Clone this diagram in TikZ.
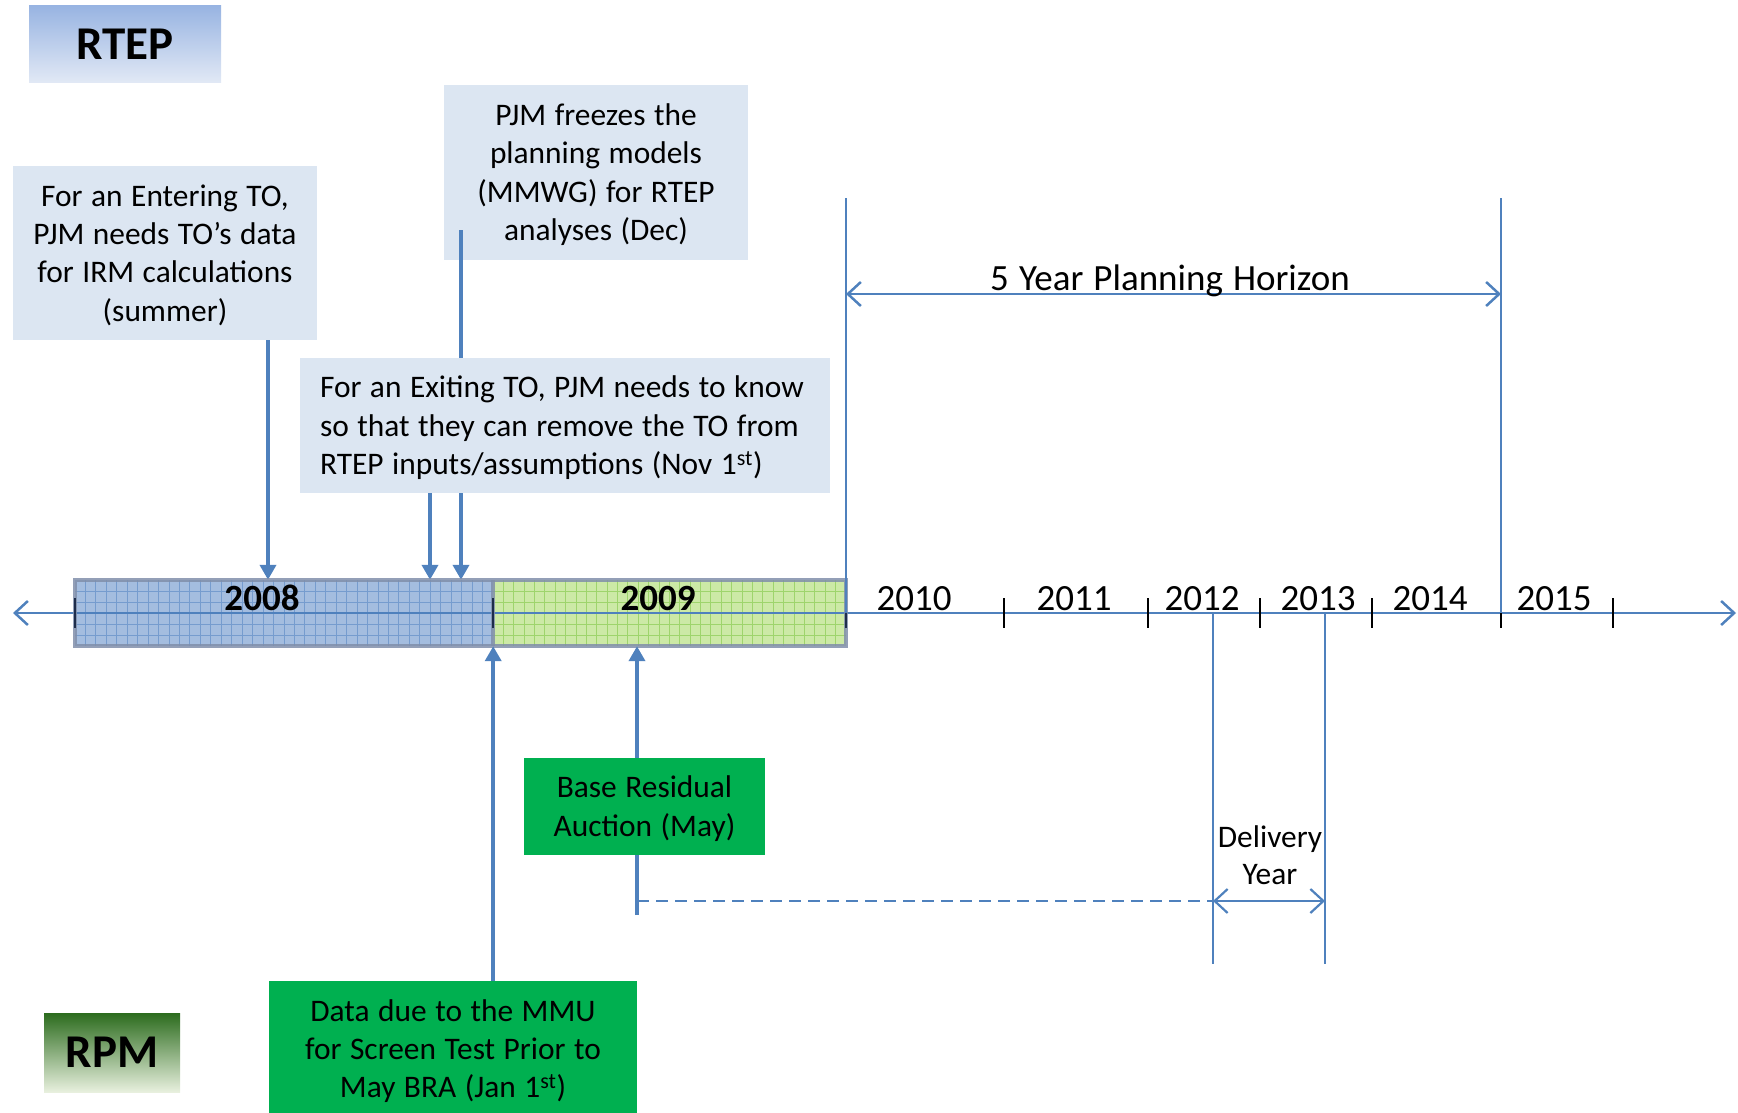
\documentclass[tikz,border=0pt]{standalone}
\usepackage{fontspec}
\setmainfont{Carlito}[WordSpace=1.2]
\usetikzlibrary{arrows.meta}
\definecolor{lineblue}{RGB}{79,129,189}
\definecolor{boxblue}{RGB}{220,230,242}
\definecolor{boxgreen}{RGB}{0,176,80}
\definecolor{barA}{RGB}{164,189,223}
\definecolor{gridA}{RGB}{118,156,206}
\definecolor{barB}{RGB}{204,233,166}
\definecolor{gridB}{RGB}{158,212,108}
\definecolor{barborder}{RGB}{128,142,170}
\definecolor{tickdark}{RGB}{30,45,75}
\tikzset{mybarb/.tip={Straight Barb[length=13pt,width=24pt]}}
\begin{document}
\begin{tikzpicture}[x=1pt,y=-1pt,
  txt/.style={font=\fontsize{31.4}{38.3}\selectfont, inner sep=0pt},
  infobox/.style={fill=boxblue, inner sep=0pt},
  greenbox/.style={fill=boxgreen, inner sep=0pt},
  thickarrow/.style={lineblue, line width=4.5pt, -{Triangle[length=15pt,width=16pt]}},
  thinline/.style={lineblue, line width=2.5pt},
  yearlbl/.style={font=\fontsize{37}{44}\selectfont, anchor=base, inner sep=0pt},
  titlebox/.style={font=\fontsize{47}{56}\selectfont\bfseries, inner sep=0pt}
]
\useasboundingbox (0,0) rectangle (1738,1113);

% ---------- top boxes ----------
\node[infobox, minimum width=304pt, minimum height=175pt] (freeze) at (596,172.5) {};
\node[txt, align=center] (freezetxt) at ([yshift=-2.2pt]freeze.center)
  {PJM freezes the\\planning models\\(MMWG) for RTEP\\analyses (Dec)};
\node[infobox, minimum width=304pt, minimum height=174pt] (enter) at (165,253) {};
\node[txt, align=center] (entertxt) at ([yshift=-2.2pt]enter.center)
  {For an Entering TO,\\PJM needs TO’s data\\for IRM calculations\\(summer)};

% ---------- bars ----------
\node[minimum width=418pt, minimum height=66pt, inner sep=0pt, fill=barA] (b08) at (284,613) {};
\node[minimum width=353pt, minimum height=66pt, inner sep=0pt, fill=barB] (b09) at (669.5,613) {};
\foreach \k in {1,...,39} \draw[gridA, line width=1pt] (75+\k*10.45,580) -- (75+\k*10.45,646);
\foreach \k in {1,...,33} \draw[gridB, line width=1pt] (493+\k*10.38,580) -- (493+\k*10.38,646);
\foreach \y in {591,602,624,635} {
  \draw[gridA, line width=1pt] (75,\y) -- (493,\y);
  \draw[gridB, line width=1pt] (493,\y) -- (846,\y);
}

% ---------- arrows from top boxes ----------
\coordinate (xa) at (268,0);
\coordinate (xb) at (430,0);
\coordinate (fz) at (461,230);
\draw[thickarrow] (enter.south -| xa) -- (b08.north -| xa);
\draw[thickarrow] (fz) -- (fz |- b08.north);

\node[infobox, minimum width=530pt, minimum height=135pt] (exit) at (565,425.5) {};
\node[txt, align=left, anchor=west] (exittxt) at ([xshift=20pt,yshift=-2.2pt]exit.west)
  {For an Exiting TO, PJM needs to know\\so that they can remove the TO from\\RTEP inputs/assumptions (Nov 1\textsuperscript{st})};
\draw[thickarrow] (exit.south -| xb) -- (b08.north -| xb);

% ---------- axis ----------
\coordinate (axL) at (13,613);
\coordinate (axR) at (1736,613);
\draw[thinline, mybarb-mybarb] (axL) -- (axR);

% bar borders
\draw[barborder, line width=4pt, opacity=0.85] (b08.north west) rectangle (b09.south east);
\draw[barborder, line width=4pt, opacity=0.85] (b08.north east) -- (b08.south east);
\foreach \x in {75,493,846} \draw[tickdark, line width=2.5pt] (\x,598) -- (\x,628);
\foreach \x in {1004,1148,1260,1372,1501,1613} \draw[black, line width=2pt] (\x,598) -- (\x,628);

% year labels
\node[yearlbl, font=\fontsize{37}{44}\selectfont\bfseries] (y08) at (262,610) {2008};
\node[yearlbl, font=\fontsize{37}{44}\selectfont\bfseries] (y09) at (658,610) {2009};
\node[yearlbl] (y10) at (914,610) {2010};
\node[yearlbl] (y11) at (1074,610) {2011};
\node[yearlbl] (y12) at (1202,610) {2012};
\node[yearlbl] (y13) at (1318,610) {2013};
\node[yearlbl] (y14) at (1430,610) {2014};
\node[yearlbl] (y15) at (1554,610) {2015};

% ---------- planning horizon ----------
\coordinate (h1t) at (846,198);
\coordinate (h2t) at (1501,198);
\coordinate (hL) at (846,294);
\coordinate (hR) at (1501,294);
\draw[thinline] (h1t) -- (h1t |- axL);
\draw[thinline] (h2t) -- (h2t |- axL);
\draw[thinline, mybarb-mybarb] (hL) -- (hR);
\node[yearlbl] (hz) at (1170,290) {5 Year Planning Horizon};

% ---------- bottom arrows ----------
\node[greenbox, minimum width=368pt, minimum height=132pt] (data) at (453,1047) {};
\node[txt, align=center] (datatxt) at ([yshift=-4pt]data.center)
  {Data due to the MMU\\for Screen Test Prior to\\May BRA (Jan 1\textsuperscript{st})};
\draw[thickarrow] (data.north -| b08.east) -- (b08.south east);

\coordinate (brb) at (637,915);
\draw[thickarrow] (brb) -- (brb |- b09.south);
\node[greenbox, minimum width=241pt, minimum height=97pt] (bra) at (644.5,806.5) {};
\node[txt, align=center] (bratxt) at ([yshift=-2.2pt]bra.center) {Base Residual\\Auction (May)};

% ---------- delivery year ----------
\coordinate (d1t) at (1213,613);
\coordinate (d1b) at (1213,964);
\coordinate (d2t) at (1325,613);
\coordinate (d2b) at (1325,964);
\coordinate (dL) at (1213,901);
\coordinate (dR) at (1325,901);
\coordinate (dash0) at (637,901);
\draw[lineblue, line width=2.2pt] (d1t) -- (d1b);
\draw[lineblue, line width=2.2pt] (d2t) -- (d2b);
\draw[lineblue, line width=2.2pt, dash pattern=on 12pt off 7pt] (dash0) -- (dL);
\draw[lineblue, line width=2.2pt, mybarb-mybarb] (dL) -- (dR);
\node[txt, align=center, font=\fontsize{31.4}{37}\selectfont] (dy) at (1270,855) {Delivery\\Year};

% ---------- RTEP / RPM ----------
\node[titlebox, minimum width=192pt, minimum height=77pt, top color={rgb,255:red,152;green,180;blue,226}, bottom color={rgb,255:red,226;green,233;blue,245}] (rtep) at (125,44.5) {RTEP};
\node[titlebox, minimum width=136pt, minimum height=79pt, top color={rgb,255:red,44;green,108;blue,30}, middle color={rgb,255:red,150;green,180;blue,100}, bottom color={rgb,255:red,232;green,240;blue,222}] (rpm) at (112,1052.5) {RPM};
\end{tikzpicture}
\end{document}
